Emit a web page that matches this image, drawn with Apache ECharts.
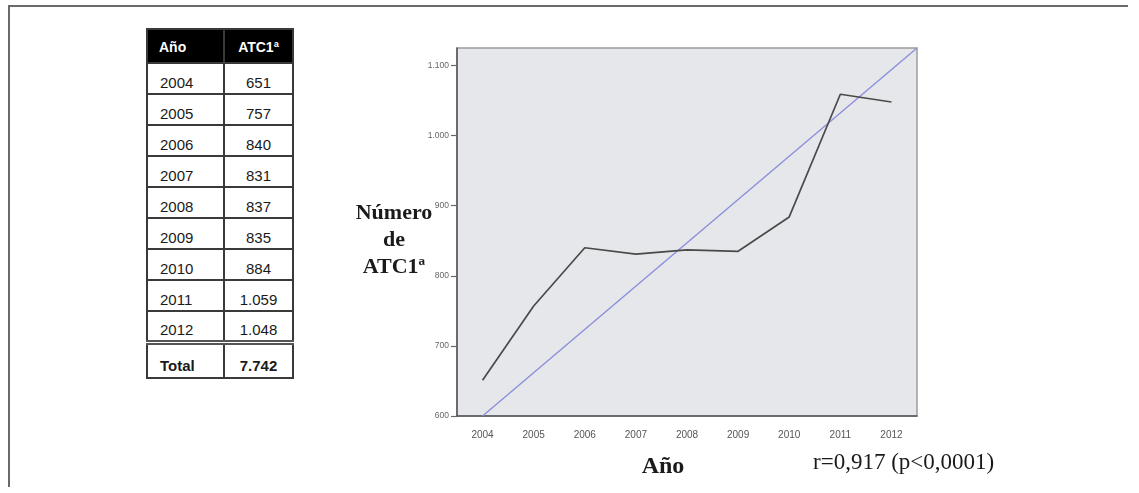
<!DOCTYPE html>
<html><head><meta charset="utf-8">
<script src="https://cdn.jsdelivr.net/npm/echarts@6/dist/echarts.min.js"></script>
<style>
html,body{margin:0;padding:0;background:#fff;}
#wrap{position:relative;width:1139px;height:493px;overflow:hidden;background:#fff;}
#chart{position:absolute;left:0;top:0;width:1139px;height:493px;}
#frameTop{position:absolute;left:8px;top:5px;width:1120px;height:0;border-top:2px solid #6a6a6a;}
#frameLeft{position:absolute;left:8px;top:5px;width:0;height:482px;border-left:2px solid #6a6a6a;}
#tbl{position:absolute;left:146px;top:28px;border-collapse:collapse;font-family:"Liberation Sans",Arial,sans-serif;color:#1a1a1a;table-layout:fixed;}
#tbl td,#tbl th{border:2px solid #3a3a3a;padding:0;box-sizing:border-box;}
#tbl th{background:#000;color:#fff;font-weight:bold;font-size:14px;height:34px;vertical-align:bottom;padding-bottom:7px;}
#tbl td{font-size:15px;height:31px;vertical-align:bottom;padding-bottom:2px;}
#tbl .c1{width:77px;text-align:left;padding-left:11px;}
#tbl .c2{width:69px;text-align:center;}
#tbl td.c1{padding-left:12px;}
#tbl tr.total td{border-top:5px double #555;font-weight:bold;height:36px;padding-bottom:3px;}
</style>
</head><body>
<div id="wrap">
  <div id="frameTop"></div>
  <div id="frameLeft"></div>
  <table id="tbl"></table>
  <div id="chart"></div>
</div>
<script>
// ---- data ----
const years = ['2004','2005','2006','2007','2008','2009','2010','2011','2012'];
const atc = [651, 757, 840, 831, 837, 835, 884, 1059, 1048];
const trendYears = [2004, 2012.5];
const trendValues = [600, 1125];
const tableHeaders = ['Año', 'ATC1ª'];
const totalLabel = 'Total';
const yMin = 600, yMax = 1125, yStep = 100;
const yTitle = 'Número\nde\nATC1ª';
const xTitle = 'Año';
const statText = 'r=0,917 (p<0,0001)';

function fmt(v) {
  v = Math.round(v);
  if (v >= 1000) return Math.floor(v / 1000) + '.' + String(v % 1000).padStart(3, '0');
  return String(v);
}

// ---- table ----
const tbl = document.getElementById('tbl');
let html = '<tr><th class="c1">' + tableHeaders[0] + '</th><th class="c2">' + tableHeaders[1] + '</th></tr>';
years.forEach((y, i) => {
  html += '<tr><td class="c1">' + y + '</td><td class="c2">' + fmt(atc[i]) + '</td></tr>';
});
const total = atc.reduce((a, b) => a + b, 0);
html += '<tr class="total"><td class="c1">' + totalLabel + '</td><td class="c2">' + fmt(total) + '</td></tr>';
tbl.innerHTML = html;

// ---- chart ----
const chart = echarts.init(document.getElementById('chart'));
chart.setOption({
  animation: false,
  grid: {
    left: 457, right: 222, top: 48, bottom: 77,
    show: true, backgroundColor: '#e5e7ea', borderColor: '#9c9c9c', borderWidth: 1.5
  },
  xAxis: [{
    type: 'category', data: years, boundaryGap: true,
    axisLine: { lineStyle: { color: '#555', width: 1.5 } },
    axisTick: { alignWithLabel: true, length: 6, lineStyle: { color: '#666', width: 1.2 } },
    axisLabel: { color: '#555', fontSize: 10, margin: 14, fontFamily: 'Liberation Sans' },
    splitLine: { show: false }
  }, {
    type: 'value', min: 2003.5, max: 2012.5, show: false
  }],
  yAxis: {
    type: 'value', min: yMin, max: yMax, interval: yStep,
    axisLine: { show: true, lineStyle: { color: '#555', width: 1.5 } },
    axisTick: { show: true, length: 6, lineStyle: { color: '#666', width: 1.2 } },
    axisLabel: { color: '#666', fontSize: 8.5, margin: 8, showMaxLabel: false,
      fontFamily: 'Liberation Sans', formatter: fmt },
    splitLine: { show: false }
  },
  series: [{
    type: 'line', data: atc, xAxisIndex: 0, symbol: 'none',
    lineStyle: { color: '#4a4a4a', width: 1.7 }, z: 3
  }, {
    type: 'line', xAxisIndex: 1, symbol: 'none',
    data: trendYears.map((x, i) => [x, trendValues[i]]),
    lineStyle: { color: '#8b8fdb', width: 1.4 }, z: 2
  }],
  graphic: [{
    type: 'text', x: 394, y: 240,
    style: { text: yTitle, textAlign: 'center', textVerticalAlign: 'middle',
      font: 'bold 22px "Liberation Serif", serif', lineHeight: 27, fill: '#1a1a1a' }
  }, {
    type: 'text', x: 663, y: 467,
    style: { text: xTitle, textAlign: 'center', textVerticalAlign: 'middle',
      font: 'bold 24px "Liberation Serif", serif', fill: '#1a1a1a' }
  }, {
    type: 'text', x: 813, y: 463,
    style: { text: statText, textAlign: 'left', textVerticalAlign: 'middle',
      font: '23px "Liberation Serif", serif', fill: '#1a1a1a' }
  }]
});
</script>
</body></html>
